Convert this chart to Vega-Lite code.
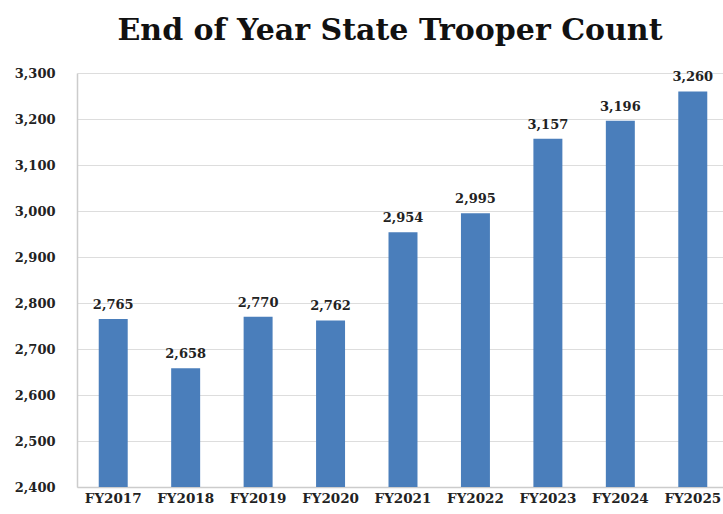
{
  "$schema": "https://vega.github.io/schema/vega-lite/v6.json",
  "autosize": "none",
  "width": 652,
  "height": 414,
  "padding": {"left": 77, "top": 73, "right": 0, "bottom": 27},
  "background": "white",
  "title": {
    "text": "End of Year State Trooper Count",
    "font": "DejaVu Serif",
    "fontSize": 30,
    "fontWeight": "bold",
    "color": "#111111",
    "anchor": "middle",
    "dx": -13,
    "offset": 21
  },
  "data": {
    "values": [
      {"year": "FY2017", "count": 2765},
      {"year": "FY2018", "count": 2658},
      {"year": "FY2019", "count": 2770},
      {"year": "FY2020", "count": 2762},
      {"year": "FY2021", "count": 2954},
      {"year": "FY2022", "count": 2995},
      {"year": "FY2023", "count": 3157},
      {"year": "FY2024", "count": 3196},
      {"year": "FY2025", "count": 3260}
    ]
  },
  "encoding": {
    "x": {
      "field": "year",
      "type": "nominal",
      "sort": null,
      "scale": {"paddingInner": 0.6, "paddingOuter": 0.3},
      "axis": {
        "title": null,
        "labelAngle": 0,
        "labelFont": "DejaVu Serif",
        "labelFontSize": 13.5,
        "labelFontWeight": "bold",
        "labelColor": "#222222",
        "labelPadding": 4,
        "ticks": false,
        "domainColor": "#cccccc",
        "domainWidth": 1.5
      }
    },
    "y": {
      "field": "count",
      "type": "quantitative",
      "scale": {"domain": [2400, 3300], "zero": false, "nice": false},
      "axis": {
        "title": null,
        "values": [2400, 2500, 2600, 2700, 2800, 2900, 3000, 3100, 3200, 3300],
        "format": ",.0f",
        "labelFont": "DejaVu Serif",
        "labelFontSize": 13,
        "labelFontWeight": "bold",
        "labelColor": "#222222",
        "labelPadding": 22,
        "ticks": false,
        "domainColor": "#cccccc",
        "domainWidth": 1.5,
        "gridColor": "#dddddd",
        "gridWidth": 1
      }
    }
  },
  "layer": [
    {"mark": {"type": "bar", "color": "#4a7ebb", "clip": true}},
    {
      "mark": {
        "type": "text",
        "dy": -14,
        "font": "DejaVu Serif",
        "fontSize": 13,
        "fontWeight": "bold",
        "color": "#222222"
      },
      "encoding": {"text": {"field": "count", "type": "quantitative", "format": ","}}
    }
  ],
  "config": {"view": {"stroke": null}}
}
